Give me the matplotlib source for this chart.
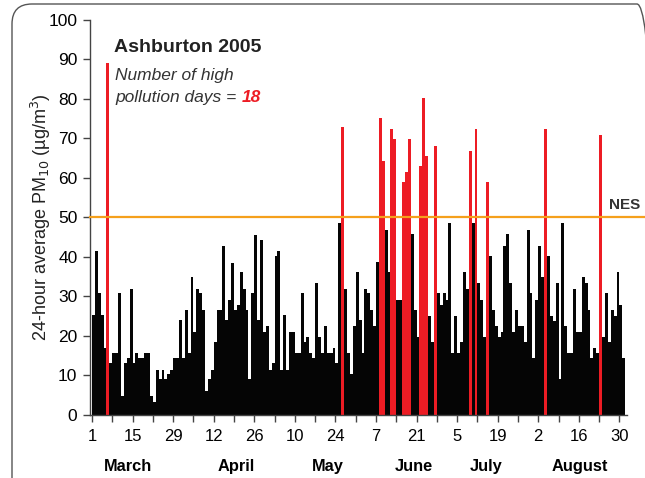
import matplotlib.pyplot as plt
from matplotlib.patches import FancyBboxPatch
from matplotlib.transforms import IdentityTransform, blended_transform_factory

# daily PM10, 1 March - 31 August 2005 (184 days)
pm10 = [25.2, 41.6, 30.8, 25.2, 16.9, 89.0, 13.1, 15.6, 15.6, 30.8,
        4.9, 13.1, 14.4, 32.0, 13.1, 15.6, 14.4, 14.4, 15.6, 15.6,
        4.9, 3.4, 11.5, 9.0, 11.5, 9.0, 10.3, 11.5, 14.4, 14.4,
        24.0, 14.4, 26.7, 15.6, 34.9, 20.9, 32.0, 30.8, 26.7, 6.2,
        9.0, 11.5, 18.4, 26.7, 26.7, 42.7, 24.0, 29.2, 38.6, 26.7,
        27.9, 36.1, 32.0, 26.7, 9.0, 30.8, 45.6, 24.0, 44.3, 20.9,
        22.5, 11.5, 13.1, 40.2, 41.6, 11.5, 25.2, 11.5, 20.9, 20.9,
        15.6, 15.6, 30.8, 18.4, 19.7, 15.6, 14.4, 33.3, 19.7, 15.6,
        22.5, 15.6, 15.6, 16.9, 13.1, 48.5, 73.0, 32.0, 15.6, 10.3,
        22.5, 36.2, 24.0, 15.6, 32.0, 30.8, 26.7, 22.6, 38.7, 75.1,
        64.4, 46.9, 36.2, 72.3, 69.8, 29.2, 29.2, 59.0, 61.5, 69.8,
        45.7, 26.7, 19.7, 63.1, 80.3, 65.6, 25.1, 18.5, 68.2, 30.8,
        27.9, 30.8, 29.2, 48.5, 15.6, 25.1, 15.6, 18.5, 36.2, 32.0,
        66.9, 48.5, 72.3, 33.3, 29.2, 19.7, 59.0, 40.3, 26.7, 22.6,
        19.7, 21.0, 42.8, 45.7, 33.3, 21.0, 26.7, 22.6, 22.6, 18.5,
        46.9, 30.8, 14.4, 29.2, 42.8, 34.9, 72.3, 40.3, 25.1, 23.8,
        33.3, 9.0, 48.5, 22.6, 15.6, 15.6, 32.0, 21.0, 21.0, 34.9,
        33.3, 26.7, 14.4, 16.9, 15.6, 71.0, 19.7, 30.8, 18.5, 26.7,
        25.1, 36.2, 27.9, 14.4]

nes = 50
tick_labels = ['1', '15', '29', '12', '26', '10', '24', '7', '21', '5', '19', '2', '16', '30']
months = ['March', 'April', 'May', 'June', 'July', 'August']
month_pos = [12.4, 49.8, 81.4, 111.0, 136.0, 168.4]

plt.rcParams['font.family'] = ['Liberation Sans', 'DejaVu Sans']

days = list(range(len(pm10)))
colors = ['#ED1C24' if v > nes else '#050505' for v in pm10]

fig = plt.figure(figsize=(6.45, 4.78), dpi=100)
ax = fig.add_axes([0.1395, 0.1318, 0.8325, 0.8264])

ax.bar(days, pm10, width=1.0, align='edge', color=colors, linewidth=0)

# NES line runs out past the axes
ax.plot([-0.7, 192], [nes, nes], color='#F5A01C', lw=1.6, clip_on=False, zorder=3)
ax.text(178.5, nes + 1.3, 'NES', fontsize=11, fontweight='bold', color='#333333',
        va='bottom', ha='left', clip_on=False)

ax.set_xlim(-0.7, 184.6)
ax.set_ylim(0, 100)
ax.set_yticks(range(0, 101, 10))
ax.tick_params(axis='y', labelsize=12.5, length=5, width=1, color='#444444', pad=4)
ax.set_xticks(range(0, 183, 14))
ax.set_xticklabels(tick_labels)
ax.set_xticks(range(7, 183, 14), minor=True)
ax.tick_params(axis='x', which='both', labelsize=12, length=5, width=1, color='#444444', pad=5)

for s in ['top', 'right']:
    ax.spines[s].set_visible(False)
for s in ['left', 'bottom']:
    ax.spines[s].set_color('#444444')
    ax.spines[s].set_linewidth(1)

ax.set_ylabel('24-hour average PM$_{10}$ (\u00b5g/m$^3$)', fontsize=13, color='#222222')
ax.yaxis.set_label_coords(-0.069, 0.5)

trans = blended_transform_factory(ax.transData, ax.transAxes)
for m, x in zip(months, month_pos):
    ax.text(x, -0.13, m, transform=trans, ha='center', va='center', fontsize=11.8, fontweight='bold')

ax.text(7.5, 93, 'Ashburton 2005', fontsize=14, fontweight='bold', color='#222222', va='center')
ax.text(8.0, 86.0, 'Number of high', fontsize=12.5, style='italic', color='#333333', va='center')
t = ax.text(8.0, 80.5, 'pollution days = ', fontsize=12.5, style='italic', color='#333333', va='center')
fig.canvas.draw()
bb = t.get_window_extent()
x_end = ax.transData.inverted().transform((bb.x1, bb.y0))[0]
ax.text(x_end, 80.5, '18', fontsize=12.5, style='italic', fontweight='bold', color='#ED1C24', va='center')

# rounded frame around the panel
frame = FancyBboxPatch((12, -30), 645, 504, boxstyle='round,pad=0,rounding_size=20',
                       transform=IdentityTransform(), fill=False, ec='#555555', lw=1)
fig.patches.append(frame)

plt.savefig('out.png', dpi=100)
